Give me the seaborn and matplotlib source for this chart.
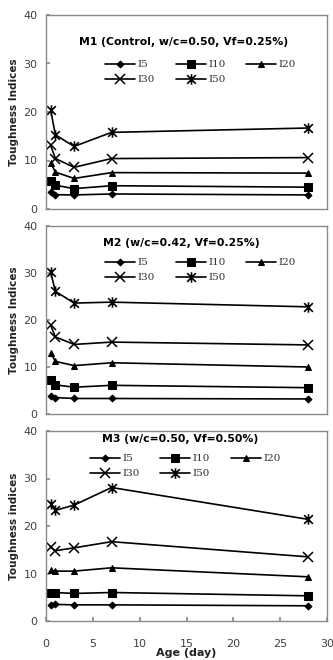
import numpy as np
import matplotlib
matplotlib.use("Agg")
import matplotlib.pyplot as plt
from matplotlib.path import Path
import seaborn as sns

sns.set_theme(style="white")
plt.rcParams['font.family'] = ['DejaVu Sans']

age = [0.5, 1, 3, 7, 28]
series_names = ["I5", "I10", "I20", "I30", "I50"]

m1_I5 = [3.5, 2.95, 2.9, 3.1, 2.9]
m1_I10 = [5.7, 4.9, 4.2, 4.8, 4.5]
m1_I20 = [9.5, 7.6, 6.3, 7.5, 7.4]
m1_I30 = [13.1, 10.4, 8.6, 10.4, 10.6]
m1_I50 = [20.4, 15.3, 12.9, 15.8, 16.7]

m2_I5 = [3.8, 3.5, 3.3, 3.3, 3.2]
m2_I10 = [7.3, 6.2, 5.7, 6.1, 5.6]
m2_I20 = [13.0, 11.2, 10.3, 10.9, 10.0]
m2_I30 = [18.9, 16.4, 14.8, 15.3, 14.7]
m2_I50 = [30.2, 26.1, 23.6, 23.8, 22.8]

m3_I5 = [3.4, 3.5, 3.4, 3.4, 3.2]
m3_I10 = [6.0, 6.0, 5.8, 6.0, 5.3]
m3_I20 = [10.7, 10.5, 10.5, 11.2, 9.3]
m3_I30 = [15.5, 14.8, 15.4, 16.7, 13.5]
m3_I50 = [24.6, 23.3, 24.4, 28.1, 21.4]

titles = ["M1 (Control, w/c=0.50, Vf=0.25%)",
          "M2 (w/c=0.42, Vf=0.25%)",
          "M3 (w/c=0.50, Vf=0.50%)"]
ylabels = ["Toughness Indices", "Toughness Indices", "Toughness indices"]
yticks = [0, 10, 20, 30, 40]
xticks = [0, 5, 10, 15, 20, 25, 30]
xlabel = "Age (day)"

panels = [
    [m1_I5, m1_I10, m1_I20, m1_I30, m1_I50],
    [m2_I5, m2_I10, m2_I20, m2_I30, m2_I50],
    [m3_I5, m3_I10, m3_I20, m3_I30, m3_I50],
]

star = Path([(-1, -1), (1, 1), (-1, 1), (1, -1), (0, -1.2), (0, 1.2)],
            [Path.MOVETO, Path.LINETO, Path.MOVETO, Path.LINETO, Path.MOVETO, Path.LINETO])
styles = {
    "I5": dict(marker="D", ms=3.5, mfc="black", mec="black"),
    "I10": dict(marker="s", ms=5.5, mfc="black", mec="black"),
    "I20": dict(marker="^", ms=5, mfc="black", mec="black"),
    "I30": dict(marker="x", ms=6.5, mew=1.1, mec="black"),
    "I50": dict(marker=star, ms=7.5, mew=1.2, mfc="none", mec="black"),
}

fig = plt.figure(figsize=(3.33, 6.6), dpi=100)
rects = [
    [46/333, 1-209/660, 281/333, 194/660],
    [46/333, 1-414/660, 281/333, 188/660],
    [46/333, 1-621/660, 281/333, 190/660],
]
title_y = [0.861, 0.91, 0.958]
title_x = [0.488, 0.48, 0.477]
leg_anchor = [(0.55, 0.79), (0.55, 0.852), (0.495, 0.90)]
spine_col = "#8a8a8a"
tick_col = "#404040"
leg_order = [0, 3, 1, 4, 2]
for i, (rect, data) in enumerate(zip(rects, panels)):
    ax = fig.add_axes(rect)
    for name, vals in zip(series_names, data):
        sns.lineplot(x=age, y=vals, ax=ax, color="black", lw=1.2, label=name,
                     **styles[name])
    ax.set_xlim(0, 30)
    ax.set_ylim(0, 40)
    ax.set_yticks(yticks)
    ax.set_yticklabels([str(t) for t in yticks], color=tick_col, fontsize=8)
    if i == 2:
        ax.set_xticks(xticks)
        ax.set_xticklabels([str(t) for t in xticks], color=tick_col, fontsize=8)
        ax.tick_params(axis="x", direction="in", length=3, color=spine_col, pad=13)
    else:
        ax.set_xticks([])
    ax.tick_params(axis="y", direction="in", length=3, color=spine_col, pad=6, left=True)
    ax.tick_params(axis="x", bottom=True)
    for s in ax.spines.values():
        s.set_color(spine_col)
        s.set_linewidth(1.0)
    ax.set_ylabel(ylabels[i], fontsize=7.5, fontweight="bold", color="#222222", labelpad=3)
    ax.text(title_x[i], title_y[i], titles[i], transform=ax.transAxes, ha="center",
            va="center", fontsize=7.8, fontweight="bold", color="black")
    h, l = ax.get_legend_handles_labels()
    leg = ax.legend([h[k] for k in leg_order], [l[k] for k in leg_order],
                    ncol=3, frameon=False, loc="upper center", bbox_to_anchor=leg_anchor[i],
                    handlelength=2.9, handletextpad=0.2, columnspacing=2.0,
                    labelspacing=0.55, borderaxespad=0, prop={"family": "DejaVu Serif", "size": 7.5})
    for t in leg.get_texts():
        t.set_color("#333333")

fig.text(186/333, 1-653/660, xlabel, ha="center", va="center", fontsize=8,
         fontweight="bold", color="#222222")
fig.savefig("out.png", dpi=100)
